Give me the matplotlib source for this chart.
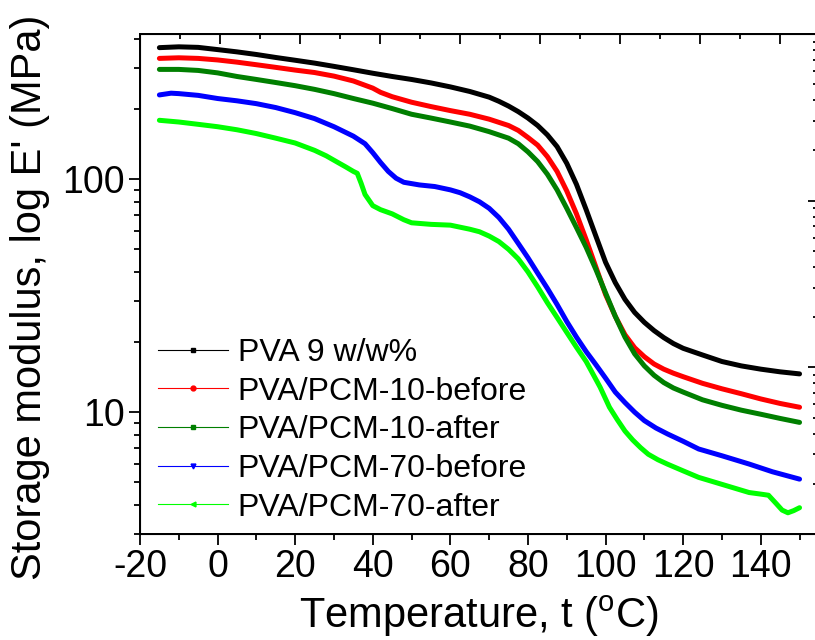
import matplotlib
matplotlib.use("Agg")
import matplotlib.pyplot as plt
from matplotlib.lines import Line2D
from matplotlib.ticker import LogLocator, NullFormatter, MultipleLocator

plt.rcParams['font.family'] = ['Liberation Sans', 'DejaVu Sans']
plt.rcParams['mathtext.fontset'] = 'custom'
plt.rcParams['mathtext.rm'] = 'Liberation Sans'
plt.rcParams['axes.unicode_minus'] = False

# Storage modulus E' (MPa) versus temperature (°C)
t_pva = [-15, -10, -5, 0, 5, 10, 15, 20, 25, 30, 35, 40, 45, 50, 55, 60, 65, 70, 72.5,
         75, 77.5, 80, 82.5, 85, 87.5, 90, 92.5, 95, 97.5, 100, 102.5, 105, 107.5, 110,
         112.5, 115, 117.5, 120, 125, 130, 135, 140, 145, 150]
e_pva = [367, 370, 368, 360, 352, 343, 333, 324, 315, 305, 295, 285, 276, 268, 259, 249,
         238, 225, 216, 206, 195, 183, 170, 155, 138, 117, 95, 74, 57, 44, 36, 30.5,
         26.8, 24.3, 22.4, 20.9, 19.7, 18.8, 17.6, 16.5, 15.8, 15.3, 14.9, 14.6]

t_p10b = [-15, -10, -5, 0, 5, 10, 15, 20, 25, 30, 35, 40, 42, 45, 50, 55, 60, 65, 70, 75,
          77.5, 80, 82.5, 85, 87.5, 90, 92.5, 95, 97.5, 100, 102.5, 105, 107.5, 110,
          112.5, 115, 117.5, 120, 125, 130, 135, 140, 145, 150]
e_p10b = [330, 332, 330, 325, 318, 310, 302, 294, 287, 277, 264, 246, 236, 226, 214, 205,
          197, 190, 181, 170, 162, 151, 140, 125, 108, 89, 71, 55, 42, 32, 25.8, 21.5,
          18.9, 17.3, 16.1, 15.3, 14.7, 14.2, 13.3, 12.6, 12.0, 11.4, 10.9, 10.5]

t_p10a = [-15, -10, -5, 0, 5, 10, 15, 20, 25, 30, 35, 40, 45, 50, 55, 60, 65, 70, 75,
          77.5, 80, 82.5, 85, 87.5, 90, 92.5, 95, 97.5, 100, 102.5, 105, 107.5, 110,
          112.5, 115, 117.5, 120, 125, 130, 135, 140, 145, 150]
e_p10a = [296, 296, 293, 286, 276, 268, 260, 252, 243, 233, 222, 212, 201, 190, 183, 176,
          169, 160, 150, 142, 131, 119, 105, 90, 75, 62, 51, 41, 32.5, 25.8, 21, 17.8,
          15.8, 14.4, 13.4, 12.7, 12.2, 11.3, 10.7, 10.2, 9.8, 9.4, 9.04]

t_p70b = [-15, -12, -10, -5, 0, 5, 10, 15, 20, 25, 30, 35, 38, 40, 42, 44, 46, 48, 52,
          56, 60, 62.5, 65, 67.5, 70, 72.5, 75, 77.5, 80, 82.5, 85, 87.5, 90, 92.5, 95,
          97.5, 100, 102.5, 105, 107.5, 110, 113, 116, 120, 124, 130, 137, 143, 150]
e_p70b = [230, 234, 233, 229, 222, 217, 211, 203, 193, 182, 168, 153, 142, 130, 118, 108,
          101, 97, 94.5, 93, 90, 87.5, 84, 80, 75, 68.5, 61, 53, 46, 39.5, 34, 29,
          24.5, 21, 18.2, 16, 14, 12.2, 11, 10, 9.2, 8.55, 8.06, 7.5, 6.95, 6.5, 5.99,
          5.55, 5.16]

t_p70a = [-15, -10, -5, 0, 5, 10, 15, 20, 25, 28, 31, 33, 35, 36, 37, 38, 40, 42, 45, 48,
          50, 55, 60, 65, 67.5, 70, 72.5, 75, 77.5, 80, 82.5, 85, 87.5, 90, 92.5, 95,
          98.6, 101, 103, 105, 107, 109, 111, 113.5, 116, 120, 124, 130, 137, 140, 142,
          144, 145.5, 147, 148.5, 150]
e_p70a = [179, 176, 172, 168, 163, 157, 150, 143, 133, 126, 118, 113, 108, 106, 96, 86,
          77, 74, 71, 67, 65, 64, 63.5, 61, 59.5, 57, 54, 50, 45.5, 40, 34.5, 29.5, 25.5,
          22, 19, 16.5, 12.8, 10.5, 9.3, 8.3, 7.6, 7.05, 6.6, 6.25, 5.98, 5.6, 5.25,
          4.9, 4.52, 4.45, 4.4, 4.05, 3.8, 3.7, 3.78, 3.89]

labels = ['PVA 9 w/w%', 'PVA/PCM-10-before', 'PVA/PCM-10-after',
          'PVA/PCM-70-before', 'PVA/PCM-70-after']
colors = ['#000000', '#ff0000', '#007f00', '#0000ff', '#00ff00']
markers = ['s', 'o', 's', 'v', '<']
series = [(t_pva, e_pva), (t_p10b, e_p10b), (t_p10a, e_p10a),
          (t_p70b, e_p70b), (t_p70a, e_p70a)]

fig = plt.figure(figsize=(8.15, 6.4), dpi=100)
ax = fig.add_axes([140 / 815, 106 / 640, 677 / 815, 500 / 640])

for (t, e), c in zip(series, colors):
    ax.plot(t, e, color=c, lw=3.6, solid_capstyle='round', solid_joinstyle='round')

ax.set_yscale('log')
ax.set_xlim(-20, 154.5)
ax.set_ylim(3, 420)

ax.set_yticks([10, 100])
ax.set_yticklabels(['10', '100'])
ax.yaxis.set_minor_locator(LogLocator(base=10, subs=range(2, 10)))
ax.yaxis.set_minor_formatter(NullFormatter())
ax.xaxis.set_major_locator(MultipleLocator(20))
ax.xaxis.set_minor_locator(MultipleLocator(10))

for s in ax.spines.values():
    s.set_linewidth(1.3)
ax.tick_params(which='both', direction='out', top=False, right=False, width=1.3)
ax.tick_params(which='major', length=8, labelsize=27, pad=3)
ax.tick_params(which='minor', length=4.3)

ax.set_xlabel('Temperature, t ($^\\mathrm{o}$C)', fontsize=30, labelpad=6)
ax.set_ylabel("Storage modulus, log E' (MPa)", fontsize=30)
ax.yaxis.set_label_coords(-0.133, 0.474)

# top axis: inward ticks only
axt = ax.twiny()
axt.set_xlim(-20, 149.25)
axt.xaxis.set_major_locator(MultipleLocator(20))
axt.xaxis.set_minor_locator(MultipleLocator(10))
axt.tick_params(axis='x', which='both', direction='in', top=True, bottom=False,
                labeltop=False, labelbottom=False, width=1.3)
axt.tick_params(axis='x', which='major', length=7.5)
axt.tick_params(axis='x', which='minor', length=3.6)
axt.tick_params(axis='y', which='both', left=False, right=False,
                labelleft=False, labelright=False)
for s in axt.spines.values():
    s.set_linewidth(1.3)

# right axis: inward ticks only
axr = ax.twinx()
axr.set_yscale('log')
axr.set_ylim(1, 1000)
axr.yaxis.set_minor_locator(LogLocator(base=10, subs=range(2, 10)))
axr.yaxis.set_minor_formatter(NullFormatter())
axr.tick_params(axis='y', which='both', direction='in', right=True, left=False,
                labelright=False, labelleft=False, width=1.3)
axr.tick_params(axis='y', which='major', length=6.5)
axr.tick_params(axis='y', which='minor', length=3.0)
axr.tick_params(axis='x', which='both', top=False, bottom=False,
                labeltop=False, labelbottom=False)

handles = [Line2D([0], [0], color=c, lw=0.8, marker=m, markersize=3.5,
                  markerfacecolor=c, markeredgecolor=c)
           for c, m in zip(colors, markers)]
fig.legend(handles, labels, loc='upper left',
           bbox_to_anchor=(158 / 815, 1 - 338 / 640), bbox_transform=fig.transFigure,
           frameon=False, fontsize=23, handlelength=2.2, handletextpad=0.3,
           labelspacing=0.27, borderpad=0, borderaxespad=0)

fig.savefig('out.png', dpi=100)
